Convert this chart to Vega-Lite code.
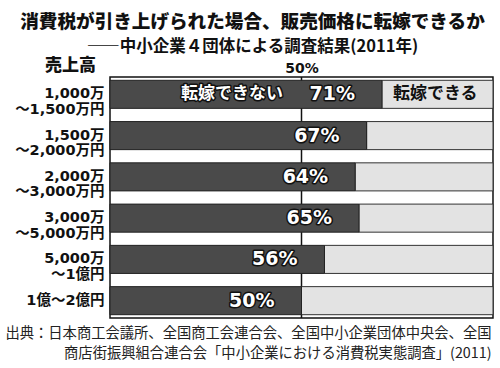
{
  "$schema": "https://vega.github.io/schema/vega-lite/v6.json",
  "width": 383,
  "height": 241,
  "autosize": "none",
  "padding": {"left": 110, "top": 77, "right": 7, "bottom": 50},
  "background": "white",
  "config": {
    "font": "Noto Sans CJK JP",
    "view": {"stroke": "#111", "strokeWidth": 1.5}
  },
  "title": {
    "text": "消費税が引き上げられた場合、販売価格に転嫁できるか",
    "subtitle": "――中小企業４団体による調査結果(2011年)",
    "anchor": "middle",
    "dx": -49,
    "fontSize": 18.6,
    "fontWeight": 900,
    "color": "#111",
    "subtitleFontSize": 16.5,
    "subtitleFontWeight": "bold",
    "subtitleColor": "#111",
    "subtitlePadding": 7,
    "offset": 1
  },
  "resolve": {"axis": {"x": "independent"}},
  "layer": [
    {
      "data": {"values": [{"p": 50}]},
      "mark": {"type": "rule", "color": "#111", "strokeWidth": 1.5},
      "encoding": {
        "x": {
          "field": "p",
          "type": "quantitative",
          "scale": {"domain": [0, 100], "nice": false},
          "axis": {
            "orient": "top",
            "values": [50],
            "labelExpr": "'50%'",
            "ticks": false,
            "domain": false,
            "grid": false,
            "title": null,
            "labelFont": "DejaVu Sans",
            "labelFontSize": 14,
            "labelFontWeight": "bold",
            "labelPadding": 2,
            "labelColor": "#111"
          }
        }
      }
    },
    {
      "data": {
        "values": [
          {"sales": "1,000万\n～1,500万円", "cannot": 71, "label": "71%", "cannot_name": "転嫁できない", "can_name": "転嫁できる"},
          {"sales": "1,500万\n～2,000万円", "cannot": 67, "label": "67%", "cannot_name": "", "can_name": ""},
          {"sales": "2,000万\n～3,000万円", "cannot": 64, "label": "64%", "cannot_name": "", "can_name": ""},
          {"sales": "3,000万\n～5,000万円", "cannot": 65, "label": "65%", "cannot_name": "", "can_name": ""},
          {"sales": "5,000万\n～1億円", "cannot": 56, "label": "56%", "cannot_name": "", "can_name": ""},
          {"sales": "1億～2億円", "cannot": 50, "label": "50%", "cannot_name": "", "can_name": ""}
        ]
      },
      "encoding": {
        "x": {
          "field": "cannot",
          "type": "quantitative",
          "axis": {
            "orient": "bottom",
            "labels": false,
            "ticks": false,
            "domain": false,
            "grid": false,
            "title": ["出典：日本商工会議所、全国商工会連合会、全国中小企業団体中央会、全国", "商店街振興組合連合会「中小企業における消費税実態調査」(2011)"],
            "titleFontSize": 14.3,
            "titleFontWeight": "normal",
            "titleColor": "#222",
            "titleAnchor": "end",
            "titleAlign": "right",
            "titleX": 381,
            "titleY": 8,
            "titleBaseline": "top",
            "titleLineHeight": 20
          }
        },
        "y": {
          "field": "sales",
          "type": "nominal",
          "sort": null,
          "scale": {"paddingInner": 0.32, "paddingOuter": 0.08},
          "axis": {
            "title": "売上高",
            "titleAngle": 0,
            "titleX": -40,
            "titleY": -12,
            "titleAlign": "center",
            "titleBaseline": "middle",
            "titleFontSize": 17,
            "titleFontWeight": 900,
            "titleColor": "#111",
            "labelExpr": "indexof(datum.label, '\\n') > 0 ? [split(datum.label, '\\n')[0] + '　', split(datum.label, '\\n')[1]] : datum.label",
            "labelFont": "DejaVu Sans, Noto Sans CJK JP",
            "labelFontSize": 14.5,
            "labelFontWeight": "bold",
            "labelColor": "#111",
            "labelAlign": "right",
            "labelPadding": 6,
            "labelLineHeight": 15.5,
            "ticks": false,
            "domain": false
          }
        }
      },
      "layer": [
        {
          "mark": {"type": "bar", "color": "#e3e3e3", "stroke": "#333", "strokeWidth": 1},
          "encoding": {"x2": {"datum": 100}}
        },
        {
          "mark": {"type": "bar", "color": "#4a4a4a", "stroke": "#222", "strokeWidth": 1}
        },
        {
          "mark": {"type": "text", "align": "right", "baseline": "middle", "dx": -27, "font": "DejaVu Sans", "fontSize": 19, "fontWeight": "bold", "fill": "#111", "stroke": "#111", "strokeWidth": 3, "strokeJoin": "round"},
          "encoding": {"text": {"field": "label"}}
        },
        {
          "mark": {"type": "text", "align": "right", "baseline": "middle", "dx": -27, "font": "DejaVu Sans", "fontSize": 19, "fontWeight": "bold", "fill": "white"},
          "encoding": {"text": {"field": "label"}}
        },
        {
          "mark": {"type": "text", "align": "right", "baseline": "middle", "dx": -99, "fontSize": 17, "fontWeight": "bold", "fill": "#111", "stroke": "#111", "strokeWidth": 3, "strokeJoin": "round"},
          "encoding": {"text": {"field": "cannot_name"}}
        },
        {
          "mark": {"type": "text", "align": "right", "baseline": "middle", "dx": -99, "fontSize": 17, "fontWeight": "bold", "fill": "white"},
          "encoding": {"text": {"field": "cannot_name"}}
        },
        {
          "mark": {"type": "text", "align": "left", "baseline": "middle", "dx": 11, "fontSize": 17, "fontWeight": "bold", "fill": "#111"},
          "encoding": {"text": {"field": "can_name"}}
        }
      ]
    }
  ]
}
